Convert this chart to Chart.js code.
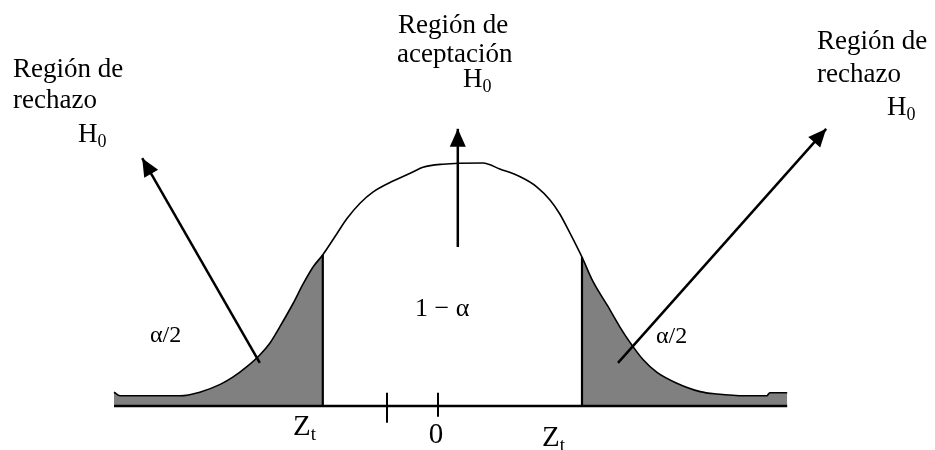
<!DOCTYPE html>
<html>
<head>
<meta charset="utf-8">
<script src="https://cdn.jsdelivr.net/npm/chart.js@4"></script>
<style>
  body { margin: 0; background: #fff; }
  #wrap { width: 935px; height: 450px; position: relative; }
</style>
</head>
<body>
<div id="wrap"><canvas id="grafico"></canvas></div>
<script>
// Curva normal (z, densidad)
const curvaZ = [-5.40, -5.30, -4.80, -4.30, -3.97, -3.63, -3.42, -3.18, -2.97, -2.80, -2.63,
    -2.42, -2.25, -2.08, -1.92, -1.68, -1.52, -1.30, -1.08, -0.75, -0.42, -0.25, 0.08, 0.75,
    1.03, 1.37, 1.65, 1.87, 2.03, 2.20, 2.40, 2.58, 2.82, 3.03, 3.20, 3.42, 3.65, 3.98, 4.37,
    4.65, 5.12, 5.48, 5.53, 5.82];
const curvaD = [0.023, 0.017, 0.017, 0.017, 0.023, 0.036, 0.048, 0.066, 0.085, 0.105, 0.133,
    0.170, 0.203, 0.232, 0.252, 0.288, 0.312, 0.338, 0.357, 0.375, 0.390, 0.398, 0.403, 0.405,
    0.395, 0.382, 0.365, 0.343, 0.320, 0.288, 0.248, 0.208, 0.168, 0.132, 0.106, 0.077, 0.056,
    0.038, 0.024, 0.020, 0.017, 0.017, 0.022, 0.022];

// Valores criticos y marcas del eje
const corteIzq = -1.92;
const corteDer = 2.40;
const marcasEje = [-0.85, 0];
const ejeDesde = -5.40;
const ejeHasta = 5.82;

// Flechas: [z inicio, d inicio, z punta, d punta]
const flechas = [
    [-2.97, 0.072, -4.93, 0.413],
    [0.33, 0.265, 0.33, 0.462],
    [3.00, 0.072, 6.47, 0.462]
];

const puntos = curvaZ.map((z, i) => ({ x: z, y: curvaD[i] }));
const colaIzq = puntos.filter(p => p.x <= corteIzq);
const colaDer = puntos.filter(p => p.x >= corteDer);
const alturaEn = z => curvaD[curvaZ.indexOf(z)];

const negro = "#000";
const gris = "#808080";

function segmento(datos, ancho) {
    return {
        data: datos,
        borderColor: negro,
        borderWidth: ancho,
        pointRadius: 0,
        fill: false,
        tension: 0
    };
}

function cola(datos) {
    return {
        data: datos,
        borderWidth: 0,
        pointRadius: 0,
        backgroundColor: gris,
        fill: "origin",
        cubicInterpolationMode: "monotone"
    };
}

// el primer dataset se dibuja encima, las colas van al final
const curva = segmento(puntos, 1.6);
curva.cubicInterpolationMode = "monotone";

const datasets = [
    segmento([{ x: ejeDesde, y: 0 }, { x: ejeHasta, y: 0 }], 2.5),
    segmento([{ x: corteIzq, y: 0 }, { x: corteIzq, y: alturaEn(corteIzq) }], 2.2),
    segmento([{ x: corteDer, y: 0 }, { x: corteDer, y: alturaEn(corteDer) }], 2.2),
    segmento([{ x: marcasEje[0], y: 0.022 }, { x: marcasEje[0], y: -0.028 }], 2),
    segmento([{ x: marcasEje[1], y: 0.022 }, { x: marcasEje[1], y: -0.018 }], 2)
];
flechas.forEach(f => datasets.push(segmento([{ x: f[0], y: f[1] }, { x: f[2], y: f[3] }], 2.5)));
datasets.push(curva, cola(colaIzq), cola(colaDer));

const serif = '"Liberation Serif", "Times New Roman", serif';

// Puntas de flecha y textos
const anotaciones = {
    id: "anotaciones",
    afterDatasetsDraw(chart) {
        const ctx = chart.ctx;
        const sx = chart.scales.x, sy = chart.scales.y;
        ctx.save();
        ctx.fillStyle = negro;
        flechas.forEach(f => {
            const x0 = sx.getPixelForValue(f[0]), y0 = sy.getPixelForValue(f[1]);
            const x1 = sx.getPixelForValue(f[2]), y1 = sy.getPixelForValue(f[3]);
            const ang = Math.atan2(y1 - y0, x1 - x0);
            const largo = 18, medio = 8;
            ctx.beginPath();
            ctx.moveTo(x1, y1);
            ctx.lineTo(x1 - largo * Math.cos(ang) + medio * Math.sin(ang), y1 - largo * Math.sin(ang) - medio * Math.cos(ang));
            ctx.lineTo(x1 - largo * Math.cos(ang) - medio * Math.sin(ang), y1 - largo * Math.sin(ang) + medio * Math.cos(ang));
            ctx.closePath();
            ctx.fill();
        });

        ctx.textAlign = "left";
        ctx.textBaseline = "alphabetic";
        const texto = (t, x, y, tam) => {
            ctx.font = tam + "px " + serif;
            ctx.fillText(t, x, y);
        };
        const conSub = (t, sub, x, y, tam) => {
            ctx.font = tam + "px " + serif;
            ctx.fillText(t, x, y);
            const w = ctx.measureText(t).width;
            ctx.font = Math.round(tam * 0.65) + "px " + serif;
            ctx.fillText(sub, x + w, y + 5);
        };

        texto("Región de", 13, 77, 27);
        texto("rechazo", 13, 108, 27);
        conSub("H", "0", 78, 142, 27);

        texto("Región de", 398, 33, 27);
        texto("aceptación", 397, 62, 27);
        conSub("H", "0", 463, 87, 27);

        texto("Región de", 817, 49, 27);
        texto("rechazo", 817, 82, 27);
        conSub("H", "0", 887, 115, 27);

        texto("α/2", 150, 342, 24);
        texto("α/2", 656, 343, 24);
        texto("1 − α", 415, 316, 26);

        conSub("Z", "t", 293, 435, 29);
        conSub("Z", "t", 542, 446, 29);
        ctx.textAlign = "center";
        texto("0", sx.getPixelForValue(marcasEje[1]) - 2, 443, 29);
        ctx.restore();
    }
};

new Chart(document.getElementById("grafico"), {
    type: "line",
    data: { datasets: datasets },
    options: {
        responsive: true,
        maintainAspectRatio: false,
        animation: false,
        layout: { padding: 0 },
        plugins: { legend: { display: false }, tooltip: { enabled: false } },
        scales: {
            x: { type: "linear", min: -7.3, max: 8.2833, display: false },
            y: { type: "linear", min: -0.07333, max: 0.67667, display: false }
        }
    },
    plugins: [anotaciones]
});
</script>
</body>
</html>
